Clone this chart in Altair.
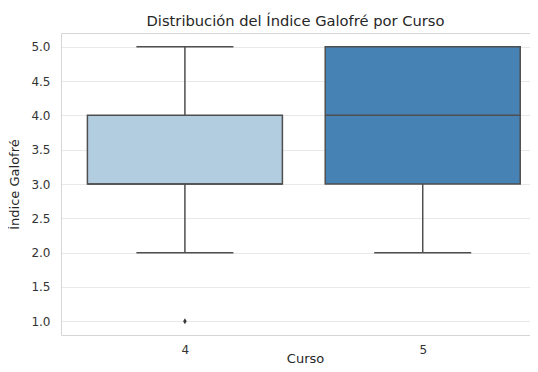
import altair as alt
import pandas as pd

cursos = [4, 5]
q1 = [3.0, 3.0]
medians = [3.0, 4.0]
q3 = [4.0, 5.0]
whisker_lo = [2.0, 2.0]
whisker_hi = [5.0, 5.0]
box_colors = ["#b3cde0", "#4682b4"]

outlier_curso = [4]
outlier_val = [1.0]

y_ticks = [1.0, 1.5, 2.0, 2.5, 3.0, 3.5, 4.0, 4.5, 5.0]

df = pd.DataFrame({
    "Curso": cursos, "q1": q1, "median": medians, "q3": q3,
    "lo": whisker_lo, "hi": whisker_hi, "color": box_colors,
})
out_df = pd.DataFrame({"Curso": outlier_curso, "val": outlier_val})

FONT = "DejaVu Sans"
LINE = "#4f4f4f"
SPINE = "#d6d6d6"
W = 469
H = 302
STEP = 243  # pixel distance between the two course positions

xscale = alt.Scale(domain=[3.5, 3.5 + W / STEP], nice=False, zero=False)
yscale = alt.Scale(domain=[0.8, 5.2], nice=False, zero=False)
xaxis = alt.Axis(title="Curso", values=cursos, format="d", labelAngle=0, ticks=False,
                 grid=False, domainColor=SPINE, labelPadding=9,
                 titleBaseline="alphabetic", titleY=27, titleX=244)
xaxis_top = alt.Axis(orient="top", title=None, labels=False, ticks=False, grid=False,
                     domainColor=SPINE)
yaxis = alt.Axis(title="Índice Galofré", values=y_ticks, format=".1f", ticks=False,
                 gridColor="#e8e8e8", domainColor=SPINE, labelPadding=11,
                 titlePadding=9)


def X(axis=xaxis):
    return alt.X("Curso:Q", scale=xscale, axis=axis)


def Y(field):
    return alt.Y(field, scale=yscale, axis=yaxis)


base = alt.Chart(df)

lower = base.mark_rule(color=LINE, strokeWidth=1.5).encode(
    x=X(), y=Y("lo:Q"), y2="q1:Q")
upper = base.mark_rule(color=LINE, strokeWidth=1.5).encode(
    x=X(), y=Y("q3:Q"), y2="hi:Q")
cap_lo = base.mark_tick(color=LINE, thickness=1.5, size=97, opacity=1,
                        orient="horizontal").encode(x=X(), y=Y("lo:Q"))
cap_hi = base.mark_tick(color=LINE, thickness=1.5, size=97, opacity=1,
                        orient="horizontal").encode(x=X(), y=Y("hi:Q"))
box = base.mark_bar(stroke=LINE, strokeWidth=1.5, size=195, orient="vertical").encode(
    x=X(), y=Y("q1:Q"), y2="q3:Q",
    fill=alt.Fill("color:N", scale=None))
med = base.mark_tick(color=LINE, thickness=1.5, size=195, opacity=1,
                     orient="horizontal").encode(x=X(), y=Y("median:Q"))
outl = alt.Chart(out_df).mark_point(shape="M0,-1L0.6,0L0,1L-0.6,0Z", filled=True,
                                    color="#3a3a3a", size=36, opacity=1).encode(
    x=X(xaxis_top), y=Y("val:Q"))

main = alt.layer(lower, upper, cap_lo, cap_hi, box, med)

chart = alt.layer(main, outl).resolve_axis(x="independent").properties(
    width=W, height=H,
    title=alt.Title("Distribución del Índice Galofré por Curso", fontSize=14.7,
                    fontWeight="normal", color="#262626", font=FONT, offset=4,
                    anchor="middle"),
    autosize=alt.AutoSizeParams(type="none"),
    padding={"left": 53, "top": 25, "right": 0, "bottom": 29},
).configure_view(strokeWidth=0, stroke="transparent").configure_axis(
    labelFont=FONT, titleFont=FONT, labelFontSize=12, titleFontSize=13,
    labelColor="#333333", titleColor="#262626", titleFontWeight="normal",
)

chart.save("out.html", embed_options={"renderer": "svg", "actions": False})
